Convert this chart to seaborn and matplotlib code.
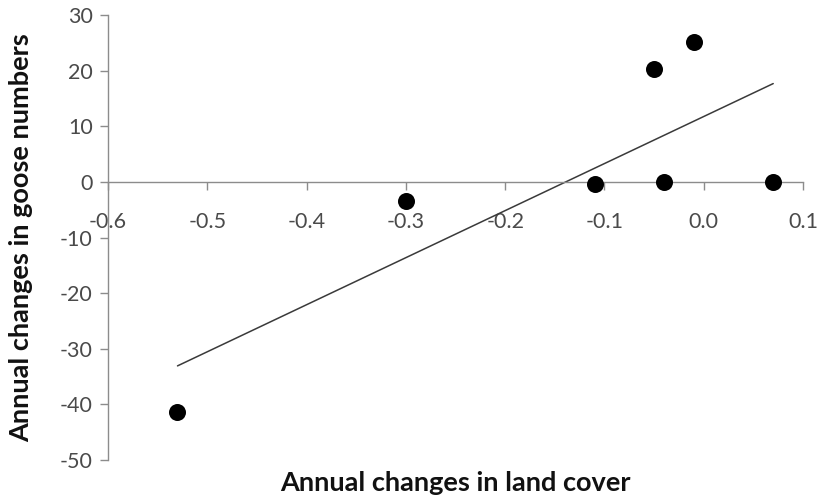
import matplotlib
matplotlib.use("Agg")
import matplotlib.pyplot as plt
import seaborn as sns
import pandas as pd
from matplotlib.ticker import FormatStrFormatter

land_cover_change = [-0.53, -0.30, -0.11, -0.05, -0.04, -0.01, 0.07]
goose_change = [-41.4, -3.5, -0.4, 20.3, 0.0, 25.2, 0.0]
x_ticks = [-0.6, -0.5, -0.4, -0.3, -0.2, -0.1, 0.0, 0.1]
y_ticks = [-50, -40, -30, -20, -10, 0, 10, 20, 30]

sns.set_style("white")
plt.rcParams['font.family'] = ['Lato', 'DejaVu Sans']
plt.rcParams['axes.unicode_minus'] = False

df = pd.DataFrame({"x": land_cover_change, "y": goose_change})

fig = plt.figure(figsize=(8.25, 5), dpi=100)
ax = fig.add_axes([108/825, 1-460/500, 695/825, 445/500])

sns.regplot(data=df, x="x", y="y", ax=ax, ci=None, truncate=True,
            scatter_kws=dict(s=150, color="black", edgecolor="black", linewidths=0,
                             alpha=1, zorder=3),
            line_kws=dict(color="#3a3a3a", linewidth=1.1, zorder=2))

ax.set_xlim(-0.6, 0.1)
ax.set_ylim(-50, 30)
ax.set_xticks(x_ticks)
ax.set_yticks(y_ticks)
ax.xaxis.set_major_formatter(FormatStrFormatter('%.1f'))

for s in ["top", "right"]:
    ax.spines[s].set_visible(False)
ax.spines["bottom"].set_position(("data", 0))
ax.spines["left"].set_position(("data", -0.6))
for s in ["bottom", "left"]:
    ax.spines[s].set_color("#8c8c8c")
    ax.spines[s].set_linewidth(1.0)

ax.tick_params(axis="x", direction="out", length=6, width=1, color="#8c8c8c",
               pad=16, labelsize=15.5, labelcolor="#4a4a4a", bottom=True)
ax.tick_params(axis="y", direction="out", length=6, width=1, color="#8c8c8c",
               pad=5, labelsize=15.5, labelcolor="#4a4a4a", left=True)

ax.set_xlabel("Annual changes in land cover", fontsize=19.5, fontweight="bold", color="#111111")
ax.set_ylabel("Annual changes in goose numbers", fontsize=19.5, fontweight="bold", color="#111111")
ax.xaxis.set_label_coords(0.5, -0.025)
ax.yaxis.set_label_coords(-0.108, 0.5)
ax.grid(False)

fig.savefig("out.png", dpi=100)
